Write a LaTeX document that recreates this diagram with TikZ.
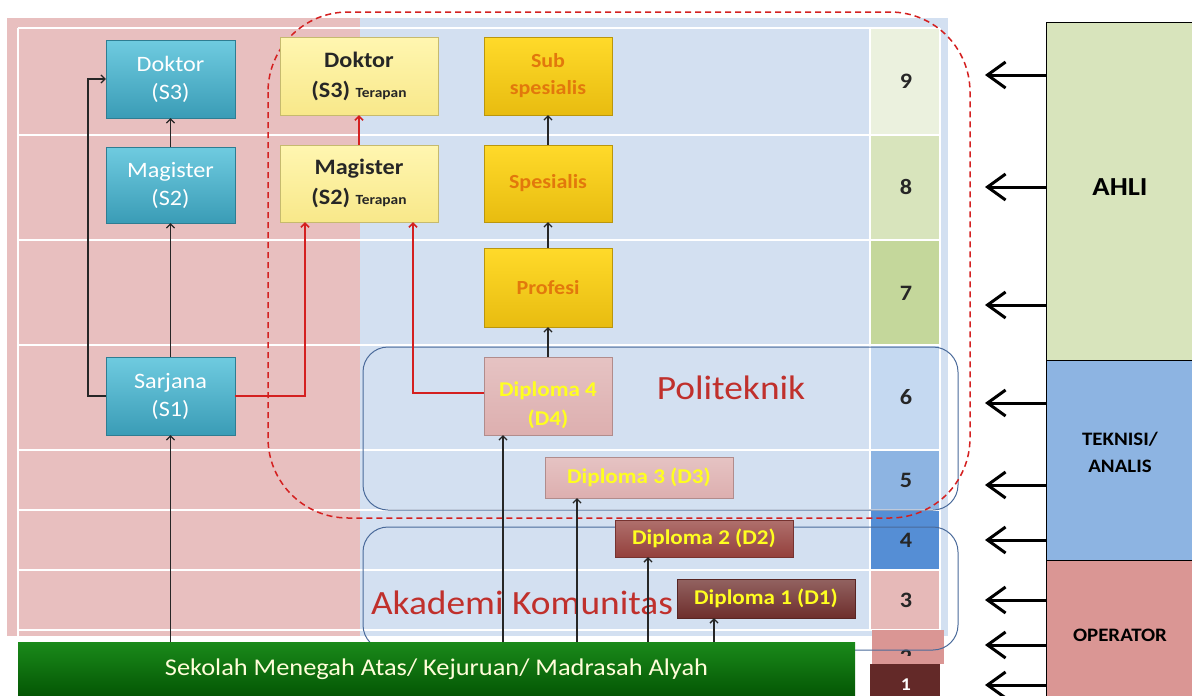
\documentclass[tikz,border=0pt]{standalone}
\usepackage{fontspec}
\setmainfont[FakeStretch=1.1]{Carlito}
\usetikzlibrary{arrows.meta}
\definecolor{bgpink}{HTML}{E8BFBF}
\definecolor{bgblue}{HTML}{D3E0F1}
\definecolor{cyanhi}{HTML}{6FCBE0}
\definecolor{cyanlo}{HTML}{3A9CB6}
\definecolor{yelhi}{HTML}{FFF6B0}
\definecolor{yello}{HTML}{F8E88A}
\definecolor{goldhi}{HTML}{FFDA2A}
\definecolor{goldlo}{HTML}{E8BC10}
\definecolor{goldtxt}{HTML}{E2780C}
\definecolor{dippink}{HTML}{DDAFAF}
\definecolor{dipred}{HTML}{94403C}
\definecolor{dipdark}{HTML}{6E2E2C}
\definecolor{diptxt}{HTML}{FFFF20}
\definecolor{barhi}{HTML}{1A8A1A}
\definecolor{barlo}{HTML}{045604}
\definecolor{redline}{HTML}{D42020}
\definecolor{redtxt}{HTML}{C0302C}
\definecolor{outline}{HTML}{4A6A9A}
\definecolor{ahlicol}{HTML}{D8E4BC}
\definecolor{teknicol}{HTML}{8DB4E2}
\definecolor{opercol}{HTML}{DA9694}
\newcommand{\terapan}[1]{{\fontsize{14}{15}\selectfont #1}}
\begin{document}
\begin{tikzpicture}[x=1pt,y=-1pt,
  every node/.style={inner sep=0pt,align=center},
  cyanbox/.style={minimum width=129pt,minimum height=78pt,top color=cyanhi,bottom color=cyanlo,
    draw=cyanlo!80!black,line width=0.3pt,text=white,font=\fontsize{22}{28}\selectfont},
  terbox/.style={minimum width=158pt,minimum height=78pt,top color=yelhi,bottom color=yello,
    draw=yello!80!black,line width=0.3pt,text=black!85,font=\fontsize{22}{30}\selectfont\bfseries},
  goldbox/.style={minimum width=128pt,minimum height=78pt,top color=goldhi,bottom color=goldlo,
    draw=goldlo!80!black,line width=0.3pt,text=goldtxt,font=\fontsize{20}{27}\selectfont\bfseries},
  dipbox/.style={top color=#1!75!white,bottom color=#1,draw=#1!80!black,line width=0.3pt,
    text=diptxt,font=\dipfont},
  rbox/.style={draw=black,line width=1pt,minimum width=148pt,font=\bfseries},
  numlbl/.style={font=\fontsize{22}{24}\selectfont\bfseries,text=black!85},
  blk/.style={-{Straight Barb[length=4pt,width=8pt]},line width=1.3pt,black!85},
  redln/.style={-{Straight Barb[length=4pt,width=8pt]},line width=1.6pt,redline},
  bigarrow/.style={-{Straight Barb[length=18pt,width=26pt]},line width=3pt},
  grid/.style={white,line width=1.5pt}]
\providecommand{\dipfont}{\fontsize{21}{29}\selectfont\bfseries}
\useasboundingbox (0,0) rectangle (1192,696);
% backgrounds and rows
\fill[bgpink] (7,18) rectangle (360,636);
\fill[bgblue] (360,18) rectangle (948,636);
\foreach \y in {28,135,240,345,450,510,570,630}
  \draw[grid] (18,\y) -- (940,\y);
\draw[grid] (18,28) -- (18,636);
\draw[grid] (870,28) -- (870,630);
\draw[grid] (940,28) -- (940,630);
% level column
\foreach \ya/\yb/\c in {29/134/EBF1DE,136/239/D8E4BC,241/344/C4D79B,346/449/C5D9F1,
    451/509/8DB4E2,511/569/558ED5,571/629/E6B9B8}{
  \definecolor{cellcol}{HTML}{\c}
  \fill[cellcol] (871,\ya) rectangle (939,\yb);
}
\foreach \n/\y in {9/81,8/187,7/293,6/397,5/480,4/540,3/600}
  \node[numlbl] (n\n) at (906,\y) {\n};
\fill[opercol] (872,630) rectangle (944,664);
\begin{scope}
  \clip (872,630) rectangle (944,655);
  \node[numlbl] (n2) at (906,657) {2};
\end{scope}
\fill[dipdark!90!black] (870,664) rectangle (940,696);
\node[numlbl,text=white,font=\fontsize{18}{20}\selectfont\bfseries] (n1) at (906,685) {1};
% regions
\draw[outline,line width=1pt,rounded corners=25pt] (363,347) rectangle (958,510);
\draw[outline,line width=1pt,rounded corners=25pt] (363,527) rectangle (958,650);
\draw[redline,line width=1.5pt,dash pattern=on 6pt off 4pt,rounded corners=80pt] (268,12) rectangle (970,518);
\node[redtxt,font=\fontsize{34}{36}\selectfont] (poli) at (731,388) {Politeknik};
\node[redtxt,font=\fontsize{34}{36}\selectfont] (akom) at (522,603) {Akademi Komunitas};
% programmes
\node[cyanbox] (doktor) at (170.5,79) {Doktor\\(S3)};
\node[cyanbox,minimum height=76pt] (magister) at (170.5,185) {Magister\\(S2)};
\node[cyanbox] (sarjana) at (170.5,396) {Sarjana\\(S1)};
\node[terbox] (doktort) at (359,76) {Doktor\\(S3) \terapan{Terapan}};
\node[terbox,minimum height=77pt] (magistert) at (359,183.5) {Magister\\(S2) \terapan{Terapan}};
\node[goldbox] (subsp) at (548,76) {Sub\\spesialis};
\node[goldbox,minimum height=77pt] (spesialis) at (548,183.5) {Spesialis};
\node[goldbox,minimum height=79pt] (profesi) at (548,287.5) {Profesi};
\node[dipbox=dippink,minimum width=128pt,minimum height=78pt,
  label={[text=diptxt,font=\dipfont,yshift=-9pt]center:{Diploma 4\\(D4)}}] (d4) at (548,396) {};
\node[dipbox=dippink,minimum width=188pt,minimum height=41pt] (d3) at (639,477.5) {Diploma 3 (D3)};
\node[dipbox=dipred,minimum width=178pt,minimum height=37pt] (d2) at (704,538.5) {Diploma 2 (D2)};
\node[dipbox=dipdark,minimum width=178pt,minimum height=39pt] (d1) at (766,598.5) {Diploma 1 (D1)};
\node[minimum width=837pt,minimum height=54pt,top color=barhi,bottom color=barlo,
  text=yellow!15!white,font=\fontsize{24}{26}\selectfont] (sma) at (436.5,669)
  {Sekolah Menegah Atas/ Kejuruan/ Madrasah Alyah};
% paths
\draw[blk] (magister) -- (doktor);
\draw[blk] (sarjana) -- (magister);
\draw[blk] (sarjana.west) -- ++(-18,0) |- (doktor.west);
\draw[blk] (sarjana |- sma.north) -- (sarjana.south);
\draw[blk] (spesialis) -- (subsp);
\draw[blk] (profesi) -- (spesialis);
\draw[blk] (d4) -- (profesi);
\coordinate (mtleft) at ([xshift=-54pt]magistert.south);
\coordinate (mtright) at ([xshift=54pt]magistert.south);
\draw[redln] (sarjana.east) -| (mtleft);
\draw[redln] (magistert) -- (doktort);
\draw[redln] ([yshift=3pt]d4.west) -| (mtright);
\coordinate (d4in) at ([xshift=-45pt]d4.south);
\coordinate (d3in) at ([xshift=-62pt]d3.south);
\coordinate (d2in) at ([xshift=-56pt]d2.south);
\coordinate (d1in) at ([xshift=-52pt]d1.south);
\foreach \d in {d4in,d3in,d2in,d1in}
  \draw[blk] (\d |- sma.north) -- (\d);
% qualification groups
\node[rbox,fill=ahlicol,minimum height=338pt] (ahli) at (1120,191) {};
\node[rbox,fill=teknicol,minimum height=200pt] (tekni) at (1120,460) {};
\node[rbox,fill=opercol,minimum height=140pt] (oper) at (1120,630) {};
\node[font=\fontsize{26}{28}\selectfont\bfseries] (ahlitxt) at (1120,187) {AHLI};
\node[font=\fontsize{19}{27}\selectfont\bfseries] (teknitxt) at (1120,452) {TEKNISI/\\ANALIS};
\node[font=\fontsize{19}{20}\selectfont\bfseries] (opertxt) at (1120,635) {OPERATOR};
\foreach \n/\y in {9/75,8/187,7/305,6/403,5/485,4/540,3/600,2/645,1/685}
  \coordinate (a\n) at (985,\y);
\foreach \n in {9,8,7}
  \draw[bigarrow] (ahli.west |- a\n) -- (a\n);
\foreach \n in {6,5,4}
  \draw[bigarrow] (tekni.west |- a\n) -- (a\n);
\foreach \n in {3,2,1}
  \draw[bigarrow] (oper.west |- a\n) -- (a\n);
\end{tikzpicture}
\end{document}
